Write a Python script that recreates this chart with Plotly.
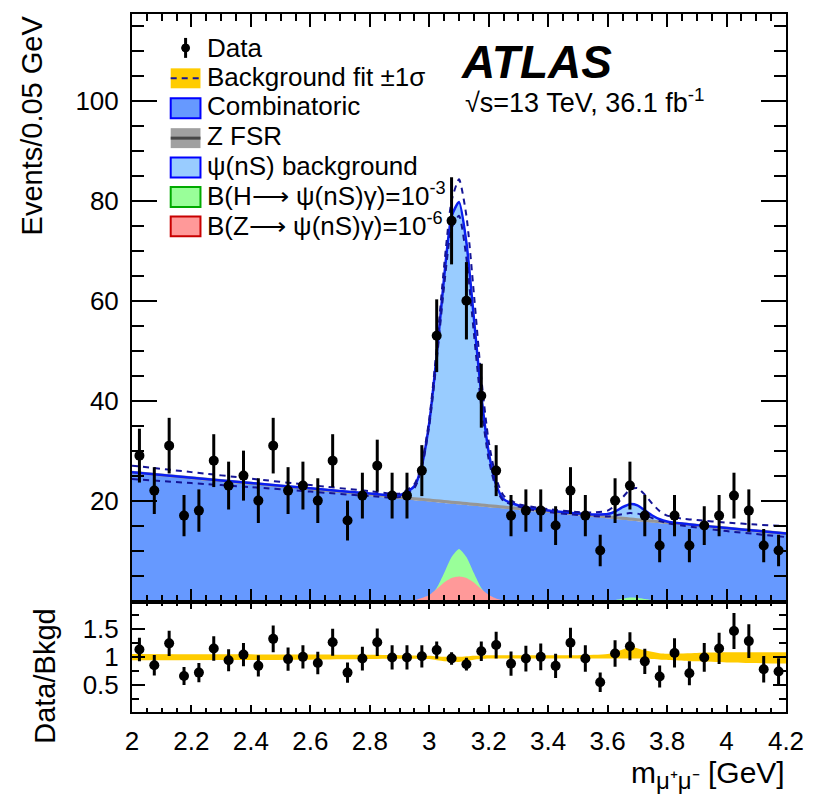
import numpy as np
import plotly.graph_objects as go

# ---------------- data ----------------
bin_centers = [2.025, 2.075, 2.125, 2.175, 2.225, 2.275, 2.325, 2.375, 2.425, 2.475,
               2.525, 2.575, 2.625, 2.675, 2.725, 2.775, 2.825, 2.875, 2.925, 2.975,
               3.025, 3.075, 3.125, 3.175, 3.225, 3.275, 3.325, 3.375, 3.425, 3.475,
               3.525, 3.575, 3.625, 3.675, 3.725, 3.775, 3.825, 3.875, 3.925, 3.975,
               4.025, 4.075, 4.125, 4.175]
events = [29, 22, 31, 17, 18, 28, 23, 25, 20, 31,
          22, 23, 20, 28, 16, 21, 27, 21, 21, 26,
          53, 76, 60, 41, 26, 17, 18, 18, 15, 22,
          17, 10, 20, 23, 17, 11, 17, 11, 15, 17,
          21, 18, 11, 10]
ratio = [1.13, 0.85, 1.24, 0.66, 0.72, 1.15, 0.94, 1.04, 0.84, 1.32,
         0.96, 1.00, 0.89, 1.26, 0.72, 0.97, 1.26, 0.99, 0.99, 1.01,
         1.12, 0.97, 0.87, 1.10, 1.21, 0.88, 0.97, 1.00, 0.84, 1.25,
         0.97, 0.55, 1.06, 1.19, 0.92, 0.65, 1.07, 0.71, 0.99, 1.15,
         1.46, 1.28, 0.78, 0.74]

curve_x = [2.00, 2.20, 2.40, 2.60, 2.80, 2.90, 2.95, 2.975,
           3.00, 3.025, 3.05, 3.075, 3.10, 3.125, 3.15, 3.175, 3.20, 3.225, 3.25,
           3.30, 3.35, 3.40, 3.50, 3.55,
           3.60, 3.625, 3.65, 3.675, 3.70, 3.725, 3.75, 3.775, 3.80,
           3.85, 3.90, 4.00, 4.10, 4.20]
combinatoric = [25.4, 24.28, 23.16, 22.05, 20.93, 20.37, 20.09, 19.95,
                19.81, 19.67, 19.53, 19.39, 19.25, 19.11, 18.97, 18.83, 18.69, 18.55, 18.41,
                18.13, 17.85, 17.57, 17.01, 16.73,
                16.45, 16.31, 16.17, 16.03, 15.89, 15.75, 15.61, 15.47, 15.33,
                15.05, 14.77, 14.21, 13.66, 13.10]
z_fsr = [0.3, 0.3, 0.3, 0.3, 0.3, 0.3, 0.3, 0.3,
         0.3, 0.3, 0.3, 0.3, 0.3, 0.3, 0.3, 0.3, 0.3, 0.3, 0.3,
         0.3, 0.3, 0.3, 0.3, 0.3,
         0.3, 0.3, 0.3, 0.3, 0.3, 0.3, 0.3, 0.3, 0.3,
         0.3, 0.3, 0.3, 0.3, 0.3]
psi_bkg = [0.0, 0.0, 0.05, 0.1, 0.2, 0.4, 2.5, 6.8,
           15.5, 29.1, 44.9, 57.2, 60.2, 52.2, 37.3, 22.0, 10.7, 4.3, 1.6,
           0.6, 0.25, 0.15, 0.1, 0.2,
           0.55, 1.2, 2.2, 2.95, 2.85, 2.0, 1.1, 0.5, 0.2,
           0.05, 0.02, 0.0, 0.0, 0.0]
fit_up = [27.0, 25.7, 24.4, 23.1, 21.9, 21.4, 23.3, 27.5,
          36.3, 50.5, 67.0, 80.0, 84.3, 77.0, 61.5, 44.5, 31.8, 24.5, 21.0,
          19.3, 18.7, 18.3, 17.7, 17.6,
          18.0, 19.0, 20.6, 22.2, 22.5, 21.2, 19.4, 17.9, 17.0,
          16.4, 16.1, 15.6, 15.2, 14.9]
fit_down = [24.3, 23.5, 22.7, 21.8, 20.9, 20.7, 22.5, 26.6,
            35.0, 48.0, 63.0, 74.5, 77.0, 68.5, 53.5, 38.8, 28.2, 22.4, 19.9,
            18.8, 18.1, 17.7, 17.1, 16.9,
            16.8, 17.0, 17.3, 17.5, 17.4, 17.0, 16.5, 15.9, 15.5,
            15.0, 14.6, 13.9, 13.3, 12.7]

sig_x = [2.95, 2.975, 3.0, 3.025, 3.05, 3.075, 3.1, 3.125, 3.15, 3.175, 3.2, 3.225, 3.25,
         3.6, 3.625, 3.65, 3.675, 3.7, 3.725, 3.75, 3.775]
sig_h = [0.0, 0.15, 0.8, 2.5, 5.5, 8.7, 10.3, 8.7, 5.5, 2.5, 0.8, 0.15, 0.0,
         0.0, 0.1, 0.35, 0.6, 0.55, 0.3, 0.1, 0.0]
sig_z = [0.0, 0.5, 1.1, 2.3, 3.6, 4.5, 4.8, 4.5, 3.6, 2.3, 1.1, 0.4, 0.0,
         0.0, 0.0, 0.0, 0.0, 0.0, 0.0, 0.0, 0.0]

band_x = [2.0, 2.3, 2.6, 2.9, 3.0, 3.05, 3.1, 3.15, 3.2, 3.3, 3.5, 3.6, 3.65, 3.68,
          3.72, 3.78, 3.9, 4.0, 4.1, 4.2]
band_hi = [1.05, 1.045, 1.04, 1.03, 1.02, 1.0, 1.0, 1.02, 1.03, 1.03, 1.03, 1.05, 1.13, 1.18,
           1.12, 1.06, 1.07, 1.08, 1.08, 1.08]
band_lo = [0.94, 0.945, 0.95, 0.965, 0.96, 0.92, 0.91, 0.95, 0.97, 0.97, 0.97, 0.97, 0.97, 0.97,
           0.97, 0.95, 0.92, 0.90, 0.89, 0.88]

x_ticks = [2.0, 2.2, 2.4, 2.6, 2.8, 3.0, 3.2, 3.4, 3.6, 3.8, 4.0, 4.2]
x_tick_labels = ["2", "2.2", "2.4", "2.6", "2.8", "3", "3.2", "3.4", "3.6", "3.8", "4", "4.2"]
y_ticks = [20, 40, 60, 80, 100]
r_ticks = [0.5, 1.0, 1.5]
r_tick_labels = ["0.5", "1", "1.5"]

# ---------------- styling ----------------
FONT = "Liberation Sans, Arial, Helvetica, sans-serif"
C_COMB = "rgb(102,153,255)"
C_PSI = "rgb(153,204,255)"
C_ZFSR = "rgb(150,150,150)"
C_H = "rgb(153,255,153)"
C_Z = "rgb(255,153,153)"
C_BAND = "rgb(255,204,0)"
C_FIT = "rgb(10,30,240)"
C_DASH = "rgb(20,20,150)"

W, H = 816, 795
L, R, T, B = 132, 791, 12, 712
RATIO_TOP = 602


def px2x(px):
    return (px - L) / (R - L)


def py2y(py):
    return (B - py) / (B - T)


ev_err = np.sqrt(np.array(events, dtype=float))
ratio_err = np.array(ratio) * ev_err / np.array(events, dtype=float)

fig = go.Figure()

# stacked background model
fig.add_trace(go.Scatter(x=curve_x, y=combinatoric, stackgroup="bkg", mode="lines",
                         line=dict(width=0, shape="spline", smoothing=0.6),
                         fillcolor=C_COMB, hoverinfo="skip", showlegend=False))
fig.add_trace(go.Scatter(x=curve_x, y=z_fsr, stackgroup="bkg", mode="lines",
                         line=dict(width=3, color=C_ZFSR, shape="spline", smoothing=0.6),
                         fillcolor=C_ZFSR, hoverinfo="skip", showlegend=False))
fig.add_trace(go.Scatter(x=curve_x, y=psi_bkg, stackgroup="bkg", mode="lines",
                         line=dict(width=2.5, color=C_FIT, shape="spline", smoothing=0.6),
                         fillcolor=C_PSI, hoverinfo="skip", showlegend=False))

# signal hypotheses
fig.add_trace(go.Scatter(x=sig_x, y=sig_h, mode="lines", fill="tozeroy",
                         line=dict(width=0, shape="spline", smoothing=0.5),
                         fillcolor=C_H, hoverinfo="skip", showlegend=False))
fig.add_trace(go.Scatter(x=sig_x, y=sig_z, mode="lines", fill="tozeroy",
                         line=dict(width=0, shape="spline", smoothing=0.5),
                         fillcolor=C_Z, hoverinfo="skip", showlegend=False))

# +-1 sigma dashed lines
for arr in (fit_up, fit_down):
    fig.add_trace(go.Scatter(x=curve_x, y=arr, mode="lines",
                             line=dict(width=2, color=C_DASH, dash="6px,5px",
                                       shape="spline", smoothing=0.6),
                             hoverinfo="skip", showlegend=False))

# data
fig.add_trace(go.Scatter(x=bin_centers, y=events, mode="markers",
                         marker=dict(color="black", size=10),
                         error_y=dict(type="data", array=ev_err, thickness=3, width=0, color="black"),
                         showlegend=False))

# ratio panel
fig.add_trace(go.Scatter(x=band_x, y=band_lo, mode="lines", xaxis="x2", yaxis="y2",
                         line=dict(width=0, shape="spline", smoothing=0.6),
                         hoverinfo="skip", showlegend=False))
fig.add_trace(go.Scatter(x=band_x, y=band_hi, mode="lines", xaxis="x2", yaxis="y2",
                         fill="tonexty", fillcolor=C_BAND,
                         line=dict(width=0, shape="spline", smoothing=0.6),
                         hoverinfo="skip", showlegend=False))
fig.add_trace(go.Scatter(x=bin_centers, y=ratio, mode="markers", xaxis="x2", yaxis="y2",
                         marker=dict(color="black", size=10),
                         error_y=dict(type="data", array=ratio_err, thickness=3, width=0, color="black"),
                         showlegend=False))

ratio_dom = (B - RATIO_TOP) / (B - T)

axis_common = dict(showline=True, linecolor="black", linewidth=2, mirror="allticks",
                   ticks="inside", tickcolor="black", tickwidth=2, showgrid=False,
                   zeroline=False, tickfont=dict(family=FONT, size=26, color="black"))

fig.update_layout(
    width=W, height=H,
    margin=dict(l=L, r=W - R, t=T, b=H - B),
    paper_bgcolor="white", plot_bgcolor="white",
    showlegend=False,
    xaxis=dict(domain=[0, 1], anchor="y", range=[2.0, 4.2], tickvals=x_ticks,
               showticklabels=False, ticklen=13,
               minor=dict(dtick=0.05, tick0=2.0, ticklen=7, ticks="inside",
                          tickcolor="black", tickwidth=2, showgrid=False),
               **axis_common),
    yaxis=dict(domain=[ratio_dom, 1], anchor="x", range=[-0.36, 117.4], tickvals=y_ticks,
               ticklen=25, ticklabelstandoff=6,
               minor=dict(dtick=5, tick0=0, ticklen=12, ticks="inside",
                          tickcolor="black", tickwidth=2, showgrid=False),
               **axis_common),
    xaxis2=dict(domain=[0, 1], anchor="y2", matches="x", range=[2.0, 4.2],
                tickvals=x_ticks, ticktext=x_tick_labels, ticklen=7, ticklabelstandoff=5,
                minor=dict(dtick=0.05, tick0=2.0, ticklen=4, ticks="inside",
                           tickcolor="black", tickwidth=2, showgrid=False),
                **axis_common),
    yaxis2=dict(domain=[0, ratio_dom], anchor="x2", range=[0.02, 1.97],
                tickvals=r_ticks, ticktext=r_tick_labels, ticklen=13, ticklabelstandoff=6,
                minor=dict(dtick=0.25, tick0=0, ticklen=7, ticks="inside",
                           tickcolor="black", tickwidth=2, showgrid=False),
                **axis_common),
)

ann = []
shapes = []

# axis titles
ann.append(dict(x=px2x(31), y=py2y(124), xref="paper", yref="paper", text="Events/0.05 GeV",
                textangle=-90, showarrow=False, xanchor="center", yanchor="middle",
                font=dict(family=FONT, size=29, color="black")))
ann.append(dict(x=px2x(44), y=py2y(676), xref="paper", yref="paper", text="Data/Bkgd",
                textangle=-90, showarrow=False, xanchor="center", yanchor="middle",
                font=dict(family=FONT, size=29, color="black")))
ann.append(dict(x=px2x(792), y=py2y(775), xref="paper", yref="paper",
                text="m<sub><span style='font-size:24px'>μ⁺μ⁻</span></sub> [GeV]",
                showarrow=False, xanchor="right", yanchor="middle",
                font=dict(family=FONT, size=30, color="black")))

# ATLAS label
ann.append(dict(x=px2x(462), y=py2y(60), xref="paper", yref="paper",
                text="<b><i>ATLAS</i></b>", showarrow=False, xanchor="left", yanchor="middle",
                font=dict(family=FONT, size=46, color="black")))
ann.append(dict(x=px2x(466), y=py2y(99), xref="paper", yref="paper",
                text="√s=13 TeV, 36.1 fb<sup>-1</sup>", showarrow=False,
                xanchor="left", yanchor="middle",
                font=dict(family=FONT, size=27, color="black")))

# legend
leg_rows = [
    ("Data", 45),
    ("Background fit ±1σ", 74),
    ("Combinatoric", 103.5),
    ("Z FSR", 133),
    ("ψ(nS) background", 163),
    ("B(H⟶ ψ(nS)γ)=10<sup>-3</sup>", 192.5),
    ("B(Z⟶ ψ(nS)γ)=10<sup>-6</sup>", 222),
]
for text, yc in leg_rows:
    ann.append(dict(x=px2x(206), y=py2y(yc + 1), xref="paper", yref="paper", text=text,
                    showarrow=False, xanchor="left", yanchor="middle",
                    font=dict(family=FONT, size=26, color="black")))

bx0, bx1 = px2x(171), px2x(201)


def box(yc, fill, edge, lw=2):
    shapes.append(dict(type="rect", xref="paper", yref="paper",
                       x0=bx0, x1=bx1, y0=py2y(yc + 10), y1=py2y(yc - 10),
                       fillcolor=fill, line=dict(color=edge, width=lw)))


# data symbol
shapes.append(dict(type="line", xref="paper", yref="paper", x0=px2x(186), x1=px2x(186),
                   y0=py2y(36), y1=py2y(56), line=dict(color="black", width=3)))
shapes.append(dict(type="circle", xref="paper", yref="paper", x0=px2x(182), x1=px2x(190),
                   y0=py2y(50), y1=py2y(42), fillcolor="black", line=dict(color="black", width=1)))
# background fit
box(76.5, C_BAND, C_BAND, 0)
shapes.append(dict(type="line", xref="paper", yref="paper", x0=bx0, x1=bx1,
                   y0=py2y(76.5), y1=py2y(76.5), line=dict(color=C_DASH, width=2, dash="6px,5px")))
box(106.5, C_COMB, "rgb(0,0,255)")
box(136.5, "rgb(160,160,160)", "rgb(160,160,160)", 0)
shapes.append(dict(type="line", xref="paper", yref="paper", x0=bx0, x1=bx1,
                   y0=py2y(136.5), y1=py2y(136.5), line=dict(color="rgb(70,70,70)", width=3)))
box(166, C_PSI, "rgb(0,0,255)")
box(195.5, C_H, "rgb(0,170,0)")
box(225, C_Z, "rgb(200,0,0)")

fig.update_layout(annotations=ann, shapes=shapes)

fig.write_html("out.html", config={"displayModeBar": False},
               post_script="document.body.style.margin='0px';")
